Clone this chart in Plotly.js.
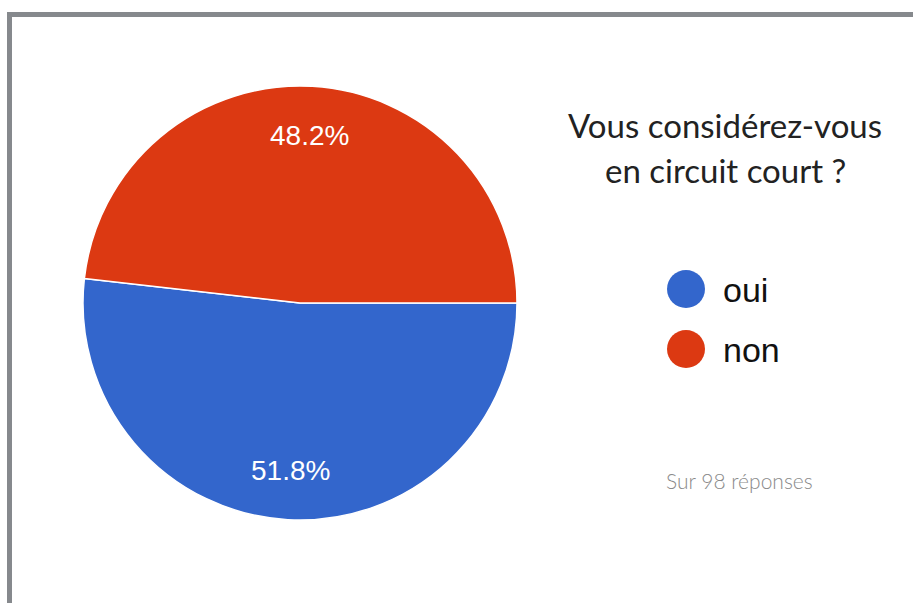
<!DOCTYPE html>
<html>
<head>
<meta charset="utf-8">
<script src="https://cdn.plot.ly/plotly-3.0.1.min.js"></script>
<style>html,body{margin:0;padding:0;background:#fff;}#chart{width:913px;height:603px;}</style>
</head>
<body>
<div id="chart"></div>
<script>
// ---- data ----
var categories = ["oui", "non"];
var percentages = [51.8, 48.2];
var sliceColors = ["#3366cc", "#dc3912"];
var titleLines = ["Vous considérez-vous", "en circuit court ?"];
var responseNote = "Sur 98 réponses";

// ---- layout helpers ----
var W = 913, H = 603;
function px(x) { return x / W; }
function py(y) { return 1 - y / H; }

var pieCx = 300, pieCy = 303, pieR = 217;
var rotation = 90; // start at 3 o'clock, clockwise

var total = percentages.reduce(function (a, b) { return a + b; }, 0);

var annotations = [];
var shapes = [];

// percentage labels placed along each slice's mid-angle
var cum = 0;
for (var i = 0; i < percentages.length; i++) {
  var mid = cum + percentages[i] / 2;
  cum += percentages[i];
  var ang = (rotation + mid / total * 360) * Math.PI / 180;
  var rr = pieR * 0.775;
  var lx = pieCx + rr * Math.sin(ang);
  var ly = pieCy - rr * Math.cos(ang);
  annotations.push({
    xref: "paper", yref: "paper", x: px(lx), y: py(ly),
    xanchor: "center", yanchor: "middle", showarrow: false,
    text: percentages[i].toFixed(1) + "%",
    font: {family: "Liberation Sans, Arial, sans-serif", size: 28, color: "#ffffff"}
  });
}

// title lines
var titleY = [125, 170];
for (var t = 0; t < titleLines.length; t++) {
  annotations.push({
    xref: "paper", yref: "paper", x: px(725), y: py(titleY[t]),
    xanchor: "center", yanchor: "middle", showarrow: false,
    text: titleLines[t],
    font: {family: "Lato, Open Sans, sans-serif", size: 33, color: "#222222", weight: 400}
  });
}

// custom legend with round markers
var legY = [289, 349];
for (var k = 0; k < categories.length; k++) {
  shapes.push({
    type: "circle", xref: "paper", yref: "paper",
    x0: px(667), x1: px(705), y0: py(legY[k] + 19), y1: py(legY[k] - 19),
    fillcolor: sliceColors[k], line: {width: 0}
  });
  annotations.push({
    xref: "paper", yref: "paper", x: px(721), y: py(legY[k] + 1),
    xanchor: "left", yanchor: "middle", showarrow: false,
    text: categories[k],
    font: {family: "Liberation Sans, Arial, sans-serif", size: 34, color: "#111111"}
  });
}

// response count note
annotations.push({
  xref: "paper", yref: "paper", x: px(739), y: py(480),
  xanchor: "center", yanchor: "middle", showarrow: false,
  text: responseNote,
  font: {family: "Lato, Open Sans, sans-serif", size: 21, color: "#8a8a8a", weight: 300}
});

// grey frame (top and left edges)
shapes.push({type: "rect", xref: "paper", yref: "paper", x0: px(7), x1: px(920), y0: py(17), y1: py(12),
  fillcolor: "#86898d", line: {width: 0}, layer: "below"});
shapes.push({type: "rect", xref: "paper", yref: "paper", x0: px(7), x1: px(12), y0: py(610), y1: py(12),
  fillcolor: "#86898d", line: {width: 0}, layer: "below"});

var trace = {
  type: "pie",
  labels: categories,
  values: percentages,
  sort: false,
  direction: "clockwise",
  rotation: rotation,
  marker: {colors: sliceColors, line: {color: "#ffffff", width: 1.5}},
  textinfo: "none",
  hoverinfo: "label+percent",
  showlegend: false,
  domain: {x: [px(pieCx - pieR), px(pieCx + pieR)], y: [py(pieCy + pieR), py(pieCy - pieR)]}
};

var layout = {
  width: W, height: H,
  margin: {l: 0, r: 0, t: 0, b: 0},
  paper_bgcolor: "#ffffff",
  showlegend: false,
  annotations: annotations,
  shapes: shapes
};

Plotly.newPlot("chart", [trace], layout, {displayModeBar: false, staticPlot: true});
</script>
</body>
</html>
